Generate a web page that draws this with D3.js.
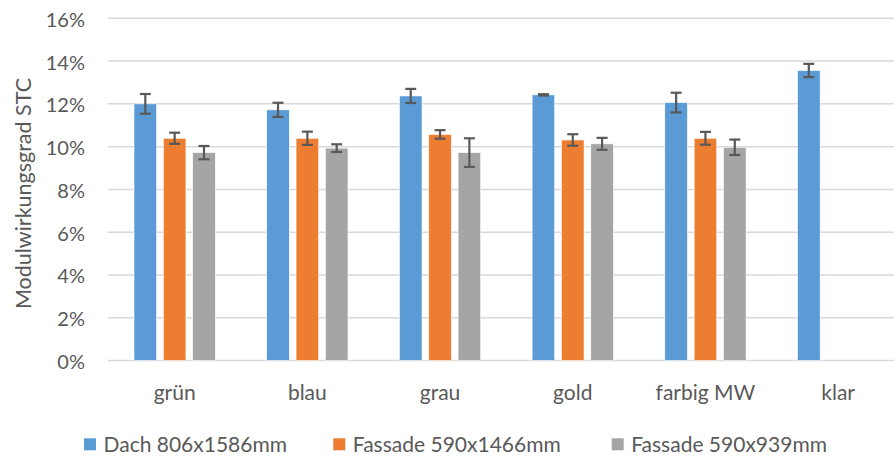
<!DOCTYPE html>
<html>
<head>
<meta charset="utf-8">
<script src="https://cdn.jsdelivr.net/npm/d3@7/dist/d3.min.js"></script>
<style>
  html, body { margin: 0; padding: 0; background: #fff; }
  svg { display: block; }
  text { font-family: Lato, "Open Sans", sans-serif; fill: #595959; }
</style>
</head>
<body>
<svg id="chart" width="894" height="457"></svg>
<script>
// ---- data ----
const categories = ["grün", "blau", "grau", "gold", "farbig MW", "klar"];
const seriesNames = ["Dach 806x1586mm", "Fassade 590x1466mm", "Fassade 590x939mm"];
const dachValues = [12.0, 11.72, 12.37, 12.42, 12.06, 13.56];
const dachErrors = [0.46, 0.33, 0.33, 0.03, 0.46, 0.31];
const fassade1466Values = [10.39, 10.39, 10.57, 10.31, 10.39, null];
const fassade1466Errors = [0.26, 0.31, 0.20, 0.27, 0.30, null];
const fassade939Values = [9.72, 9.93, 9.72, 10.13, 9.97, null];
const fassade939Errors = [0.31, 0.18, 0.67, 0.28, 0.36, null];
const yTicks = [0, 2, 4, 6, 8, 10, 12, 14, 16];
const colors = ["#5B9BD5", "#ED7D31", "#A5A5A5"];

const seriesValues = [dachValues, fassade1466Values, fassade939Values];
const seriesErrors = [dachErrors, fassade1466Errors, fassade939Errors];

const svg = d3.select("#chart");

const y = d3.scaleLinear().domain([0, 16]).range([360.5, 18.3]);
const x0 = d3.scaleBand().domain(categories).range([108.3, 904.5]).padding(0);
const x1 = d3.scaleBand().domain(seriesNames).range([-44, 44])
  .paddingInner(0.229).paddingOuter(0.1145);

// gridlines
svg.append("g").selectAll("line").data(yTicks).join("line")
  .attr("x1", 108).attr("x2", 904)
  .attr("y1", d => y(d)).attr("y2", d => y(d))
  .attr("stroke", "#D9D9D9").attr("stroke-width", 1.5);

// y tick labels
svg.append("g").selectAll("text").data(yTicks).join("text")
  .attr("x", 85).attr("y", d => y(d) + 8.5)
  .attr("text-anchor", "end")
  .attr("font-size", 20)
  .text(d => d + "%");

// bars
const rows = [];
categories.forEach((c, i) => {
  seriesNames.forEach((s, j) => {
    const v = seriesValues[j][i];
    if (v != null) rows.push({ c, s, j, v, e: seriesErrors[j][i] });
  });
});

const cx = d => x0(d.c) + x0.bandwidth() / 2 + x1(d.s);

svg.append("g").selectAll("rect").data(rows).join("rect")
  .attr("x", d => cx(d))
  .attr("width", x1.bandwidth())
  .attr("y", d => y(d.v))
  .attr("height", d => y(0) - y(d.v))
  .attr("fill", d => colors[d.j])
  .attr("stroke", "#fff").attr("stroke-width", 0.6);

// error bars
const eg = svg.append("g").attr("stroke", "#595959").attr("stroke-width", 2.2);
rows.forEach(d => {
  const mx = cx(d) + x1.bandwidth() / 2;
  const top = y(d.v + d.e), bot = y(d.v - d.e);
  eg.append("line").attr("x1", mx).attr("x2", mx).attr("y1", top).attr("y2", bot);
  eg.append("line").attr("x1", mx - 5.5).attr("x2", mx + 5.5).attr("y1", top).attr("y2", top);
  eg.append("line").attr("x1", mx - 5.5).attr("x2", mx + 5.5).attr("y1", bot).attr("y2", bot);
});

// category labels
svg.append("g").selectAll("text").data(categories).join("text")
  .attr("x", d => x0(d) + x0.bandwidth() / 2)
  .attr("y", 399.5)
  .attr("text-anchor", "middle")
  .attr("font-size", 21)
  .text(d => d);

// y axis title
svg.append("text")
  .attr("transform", "translate(31,193.5) rotate(-90)")
  .attr("text-anchor", "middle")
  .attr("font-size", 21.5)
  .text("Modulwirkungsgrad STC");

// legend
const legendX = [84, 333.3, 611.7];
const lg = svg.append("g").selectAll("g").data(seriesNames).join("g")
  .attr("transform", (d, i) => `translate(${legendX[i]},438.3)`);
lg.append("rect").attr("width", 12).attr("height", 12).attr("fill", (d, i) => colors[i]);
lg.append("text").attr("x", 19.5).attr("y", 13.4).attr("font-size", 21).text(d => d);
</script>
</body>
</html>
